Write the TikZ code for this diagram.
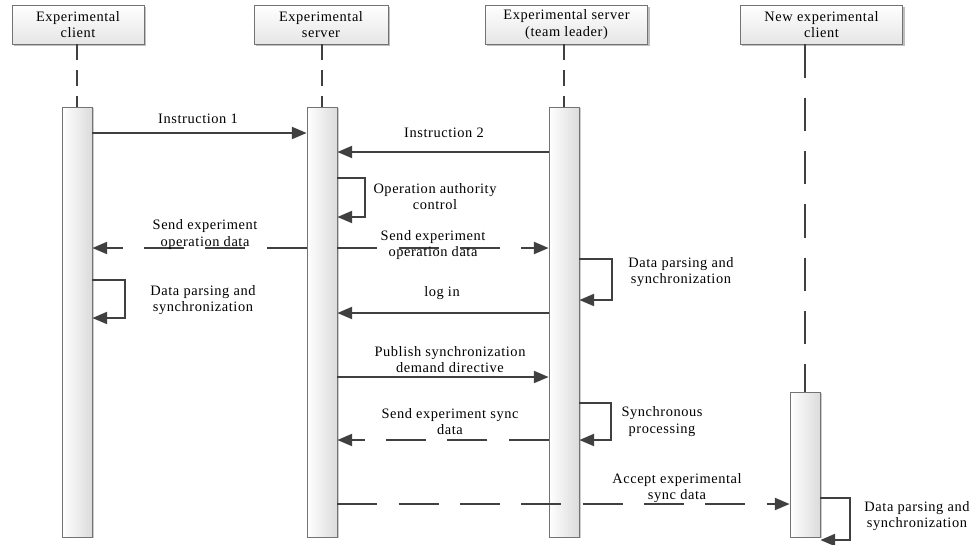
\documentclass[tikz,border=0pt]{standalone}
\usepackage{fontspec}
\setmainfont[LetterSpace=4]{Liberation Serif}
\usetikzlibrary{arrows.meta,shadows,calc}
\begin{document}
\begin{tikzpicture}[x=0.75pt,y=-0.75pt,
  font=\fontsize{10.8}{12.4}\selectfont,
  head/.style={draw=black!55, line width=0.6pt, top color=white, bottom color=black!10,
    drop shadow={shadow xshift=1.5pt,shadow yshift=-1.5pt,opacity=0.25,fill=black},
    minimum height=29.25pt, align=center, inner sep=0pt},
  bar/.style={draw=black!55, line width=0.6pt, left color=white, right color=black!14,
    drop shadow={shadow xshift=1.5pt,shadow yshift=-1pt,opacity=0.2,fill=black},
    minimum width=22.5pt, inner sep=0pt},
  life/.style={draw=black!75, line width=1.5pt, dash pattern=on 12pt off 7.5pt},
  msg/.style={draw=black!75, line width=1.4pt, -{Triangle[length=11pt,width=9pt]}},
  dmsg/.style={msg, dash pattern=on 30pt off 16pt},
  lbl/.style={align=center, inner sep=0pt, text=black}
]
\useasboundingbox (0,0) rectangle (972,544);

% headers
\node[head, minimum width=99pt]   (h1) at (78,24.5)   {Experimental\\client};
\node[head, minimum width=100.5pt](h2) at (321,24.5)  {Experimental\\server};
\node[head, minimum width=122pt]  (h3) at (566.5,24.5){Experimental server\\(team leader)};
\node[head, minimum width=122pt]  (h4) at (821.5,24.5){New experimental\\client};

% activation bars
\node[bar, minimum height=322.5pt] (b1) at (77,322) {};
\node[bar, minimum height=322.5pt] (b2) at (322,322) {};
\node[bar, minimum height=322.5pt] (b3) at (564,322) {};
\node[bar, minimum height=108.75pt] (b4) at (805,464.5) {};

% lifelines
\draw[life] (b1.north |- h1.south) -- (b1.north);
\draw[life] (b2.north |- h2.south) -- (b2.north);
\draw[life] (b3.north |- h3.south) -- (b3.north);
\draw[life, dash pattern=on 25pt off 15pt] (b4.north |- h4.south) -- (b4.north);

% message heights
\coordinate (y1) at (0,133);
\coordinate (y2) at (0,152);
\coordinate (y3a) at (0,178);
\coordinate (y3b) at (0,217);
\coordinate (y4) at (0,248);
\coordinate (y5a) at (0,280);
\coordinate (y5b) at (0,318);
\coordinate (y6a) at (0,259);
\coordinate (y6b) at (0,300);
\coordinate (y7) at (0,313);
\coordinate (y8) at (0,377);
\coordinate (y9a) at (0,403);
\coordinate (y9b) at (0,440);
\coordinate (y10) at (0,440);
\coordinate (y11) at (0,504);
\coordinate (y12a) at (0,498);
\coordinate (y12b) at (0,540);

% messages
\draw[msg] (b1.east |- y1) -- (b2.west |- y1);
\node[lbl] (t1) at (198,119) {Instruction 1};

\draw[msg] (b3.west |- y2) -- (b2.east |- y2);
\node[lbl] (t2) at (444,133) {Instruction 2};

\draw[msg] (b2.east |- y3a) -- ++(28,0) |- (b2.east |- y3b);
\node[lbl] (t3) at (435,196.5) {Operation authority\\control};

\draw[dmsg] (b2.west |- y4) -- (b1.east |- y4);
\node[lbl] (t4) at (205,234.5) {Send experiment\\operation data};

\draw[dmsg] (b2.east |- y4) -- (b3.west |- y4);
\node[lbl] (t5) at (433,245) {Send experiment\\operation data};

\draw[msg] (b1.east |- y5a) -- ++(33,0) |- (b1.east |- y5b);
\node[lbl] (t6) at (203,300) {Data parsing and\\synchronization};

\draw[msg] (b3.east |- y6a) -- ++(33,0) |- (b3.east |- y6b);
\node[lbl] (t7) at (681,272) {Data parsing and\\synchronization};

\draw[msg] (b3.west |- y7) -- (b2.east |- y7);
\node[lbl] (t8) at (442,293) {log in};

\draw[msg] (b2.east |- y8) -- (b3.west |- y8);
\node[lbl] (t9) at (450,359.5) {Publish synchronization\\demand directive};

\draw[msg] (b3.east |- y9a) -- ++(32,0) |- (b3.east |- y9b);
\node[lbl] (t10) at (662,421.5) {Synchronous\\processing};

\draw[dmsg] (b3.west |- y10) -- (b2.east |- y10);
\node[lbl] (t11) at (450,421.5) {Send experiment sync\\data};

\draw[dmsg] (b2.east |- y11) -- (b4.west |- y11);
\node[lbl] (t12) at (677,488) {Accept experimental\\sync data};

\draw[msg] (b4.east |- y12a) -- ++(30,0) |- (b4.east |- y12b);
\node[lbl] (t13) at (917,516) {Data parsing and\\synchronization};
\end{tikzpicture}
\end{document}
